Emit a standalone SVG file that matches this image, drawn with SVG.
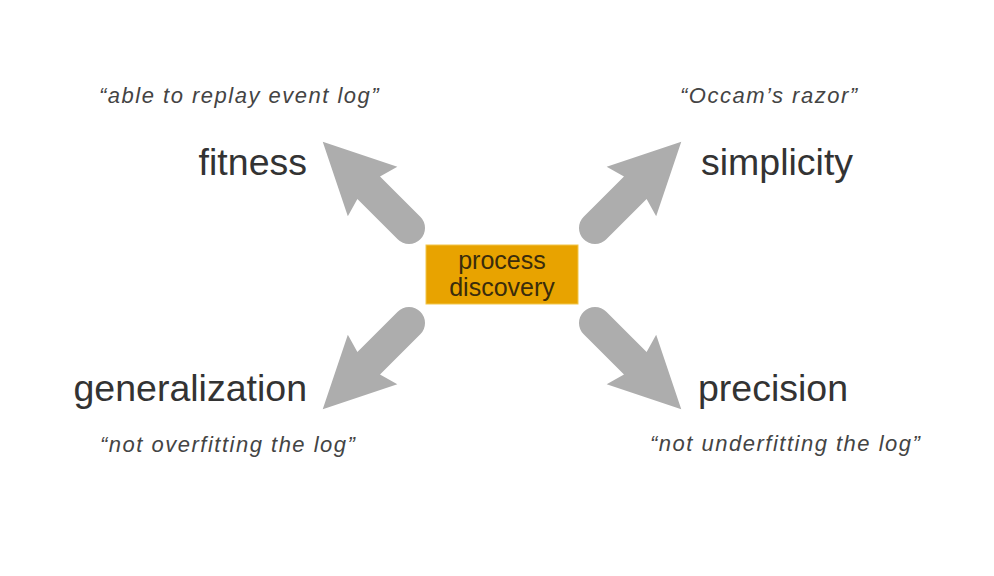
<svg xmlns="http://www.w3.org/2000/svg" width="994" height="576" viewBox="0 0 994 576">
  <style>
    .label { font-family: "Liberation Sans", Arial, sans-serif; font-size: 37.5px; fill: #333333; }
    .quote { font-family: "Liberation Sans", Arial, sans-serif; font-size: 22px; font-style: italic; fill: #444444; letter-spacing: 1.5px; }
    .boxtext { font-family: "Liberation Sans", Arial, sans-serif; font-size: 25px; fill: #3a2c0c; text-anchor: middle; }
    .arrow { fill: #adadad; }
  </style>
  <defs>
    <path id="arrowShape" d="M 0,-16 L 57,-16 L 51.5,-35 L 122,0 L 51.5,35 L 57,16 L 0,16 A 16,16 0 0 1 0,-16 Z"/>
  </defs>
  <rect x="0" y="0" width="994" height="576" fill="#ffffff"/>

  <g id="connectors">
    <use href="#arrowShape" class="arrow" transform="translate(409,228) rotate(-135)"/>
    <use href="#arrowShape" class="arrow" transform="translate(595,228) rotate(-45)"/>
    <use href="#arrowShape" class="arrow" transform="translate(409,323) rotate(135)"/>
    <use href="#arrowShape" class="arrow" transform="translate(595,323) rotate(45)"/>
  </g>

  <g id="process-discovery">
    <rect x="426" y="245" width="152" height="59" fill="#e8a300" stroke="#f2c64a" stroke-width="1"/>
    <text class="boxtext" x="502" y="269">process</text>
    <text class="boxtext" x="502" y="296">discovery</text>
  </g>

  <g id="fitness">
    <text class="quote" x="99" y="103">“able to replay event log”</text>
    <text class="label" x="307" y="175" text-anchor="end">fitness</text>
  </g>

  <g id="simplicity">
    <text class="quote" x="680" y="103">“Occam’s razor”</text>
    <text class="label" x="701" y="175">simplicity</text>
  </g>

  <g id="generalization">
    <text class="label" x="307" y="401" text-anchor="end">generalization</text>
    <text class="quote" x="100" y="452">“not overfitting the log”</text>
  </g>

  <g id="precision">
    <text class="label" x="698" y="401">precision</text>
    <text class="quote" x="650" y="451">“not underfitting the log”</text>
  </g>
</svg>
